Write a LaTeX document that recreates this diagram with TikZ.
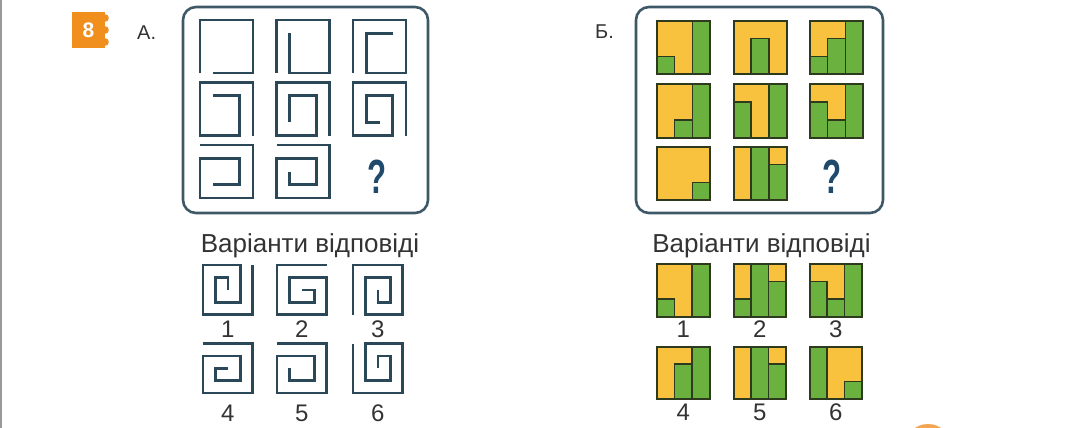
\documentclass[tikz,border=0pt]{standalone}
\usepackage{fontspec}
\setmainfont{Liberation Sans}
\definecolor{mz}{HTML}{2B4858}
\definecolor{frm}{HTML}{3E5868}
\definecolor{yel}{HTML}{F9C23E}
\definecolor{grn}{HTML}{6BB13F}
\definecolor{bord}{HTML}{2E3A1E}
\definecolor{txt}{HTML}{333333}
\definecolor{qm}{HTML}{1F4A6B}
\definecolor{badge}{HTML}{F18F1E}
\definecolor{blob}{HTML}{F3A552}
\newcommand{\mzd}[4]{\draw[mzline,shift={(#1,#2)},x=#3pt,y=-#3pt] #4;}
\newcommand{\bcell}[6]{%
 \begin{scope}[shift={(#1,#2)},x=#3pt,y=-#3pt]
 \fill[yel] (0,0) rectangle (3,3);
 \foreach \h [count=\i from 0] in {#4,#5,#6}{\ifnum\h>0 \filldraw[fill=grn,draw=bord,line width=1.6pt] (\i,3) rectangle (\i+1,3-\h);\fi}
 \draw[bord,line width=2pt] (0,0) rectangle (3,3);
 \end{scope}}
\begin{document}
\begin{tikzpicture}[x=1pt,y=-1pt,
  mzline/.style={mz,line width=2.6pt},
  panel/.style={frm,line width=2.6pt,rounded corners=13pt},
  captext/.style={anchor=base,inner sep=0pt,text=txt,font=\fontsize{26}{30}\selectfont},
  num/.style={anchor=base,inner sep=0pt,text=txt,font=\fontsize{24}{27}\selectfont},
  lett/.style={anchor=base west,inner sep=0pt,text=txt,font=\fontsize{20}{22}\selectfont},
  qmark/.style={inner sep=0pt,text=qm,font=\fontsize{48}{52}\selectfont\bfseries}]
\useasboundingbox (0,0) rectangle (1080,428);
\fill[white] (0,0) rectangle (1080,428);
\fill[black!40] (0,0) rectangle (1.5,428);
\begin{scope}
\clip (0,0) rectangle (1080,428);
\fill[blob] (928,448) circle (24);
\end{scope}
% badge
\fill[badge] (72,12) rectangle (105,48);
\foreach \yy in {18,30,42} \fill[badge] (105,\yy) circle (3.8);
\node[inner sep=0pt,text=white,font=\fontsize{21}{23}\selectfont\bfseries] (eight) at (88.5,30) {8};
\node[lett] (labA) at (137,39.5) {A.};
\node[lett] (labB) at (595,39) {Б.};
% panels
\draw[panel] (183,7) rectangle (428,213);
\draw[panel] (636,7) rectangle (883,213);
% A grid
\mzd{200}{20}{13.25}{(0,4)--(0,0)--(4,0)--(4,4)--(1,4)}
\mzd{276.5}{20}{13.25}{(0,4)--(0,0)--(4,0)--(4,4)--(1,4)--(1,1)}
\mzd{353}{20}{13.25}{(0,4)--(0,0)--(4,0)--(4,4)--(1,4)--(1,1)--(3,1)}
\mzd{200}{82.5}{13.25}{(4,4)--(4,0)--(0,0)--(0,4)--(3,4)--(3,1)--(1,1)}
\mzd{276.5}{82.5}{13.25}{(4,4)--(4,0)--(0,0)--(0,4)--(3,4)--(3,1)--(1,1)--(1,3)}
\mzd{353}{82.5}{13.25}{(4,4)--(4,0)--(0,0)--(0,4)--(3,4)--(3,1)--(1,1)--(1,3)--(2,3)}
\mzd{200}{145}{13.25}{(0,0)--(4,0)--(4,4)--(0,4)--(0,1)--(3,1)--(3,3)--(1,3)}
\mzd{276.5}{145}{13.25}{(0,0)--(4,0)--(4,4)--(0,4)--(0,1)--(3,1)--(3,3)--(1,3)--(1,2)}
\node[qmark] (qA) at (377,177) {\scalebox{0.65}[1]{?}};
% A options
\node[captext] (varA) at (310,252) {Варіанти відповіді};
\mzd{203}{265}{12.4}{(4,0)--(4,4)--(0,4)--(0,0)--(3,0)--(3,3)--(1,3)--(1,1)--(2,1)--(2,2)}
\mzd{277}{265}{12.4}{(4,0)--(0,0)--(0,4)--(4,4)--(4,1)--(1,1)--(1,3)--(3,3)--(3,2)--(2,2)}
\mzd{353}{265}{12.4}{(0,4)--(0,0)--(4,0)--(4,4)--(1,4)--(1,1)--(3,1)--(3,3)--(2,3)--(2,2)}
\mzd{203}{343.5}{12.4}{(0,0)--(4,0)--(4,4)--(0,4)--(0,1)--(3,1)--(3,3)--(1,3)--(1,2)--(2,2)}
\mzd{277}{343.5}{12.4}{(0,0)--(4,0)--(4,4)--(0,4)--(0,1)--(3,1)--(3,3)--(1,3)--(1,2)}
\mzd{353}{343.5}{12.4}{(0,0)--(0,4)--(4,4)--(4,0)--(1,0)--(1,3)--(3,3)--(3,1)--(2,1)--(2,2)}
\node[num] (a1) at (227.8,337.5) {1};
\node[num] (a2) at (301.8,337.5) {2};
\node[num] (a3) at (377.8,337.5) {3};
\node[num] (a4) at (227.8,421) {4};
\node[num] (a5) at (301.8,421) {5};
\node[num] (a6) at (377.8,421) {6};
% B grid
\bcell{657}{21}{17.67}{1}{0}{3}
\bcell{733.5}{21}{17.67}{0}{2}{0}
\bcell{810}{21}{17.67}{1}{2}{3}
\bcell{657}{84.5}{17.67}{0}{1}{3}
\bcell{733.5}{84.5}{17.67}{2}{0}{3}
\bcell{810}{84.5}{17.67}{2}{1}{3}
\bcell{657}{147}{17.67}{0}{0}{1}
\bcell{733.5}{147}{17.67}{0}{3}{2}
\node[qmark] (qB) at (832,177) {\scalebox{0.65}[1]{?}};
% B options
\node[captext] (varB) at (761.5,252) {Варіанти відповіді};
\bcell{657}{264}{17.5}{1}{0}{3}
\bcell{733.5}{264}{17.5}{1}{3}{2}
\bcell{809.5}{264}{17.5}{2}{1}{3}
\bcell{657}{346.5}{17.5}{0}{2}{3}
\bcell{733.5}{346.5}{17.5}{0}{3}{2}
\bcell{809.5}{346.5}{17.5}{3}{0}{1}
\node[num] (b1) at (683.2,337) {1};
\node[num] (b2) at (759.7,337) {2};
\node[num] (b3) at (835.7,337) {3};
\node[num] (b4) at (683.2,420) {4};
\node[num] (b5) at (759.7,420) {5};
\node[num] (b6) at (835.7,420) {6};
\end{tikzpicture}
\end{document}
